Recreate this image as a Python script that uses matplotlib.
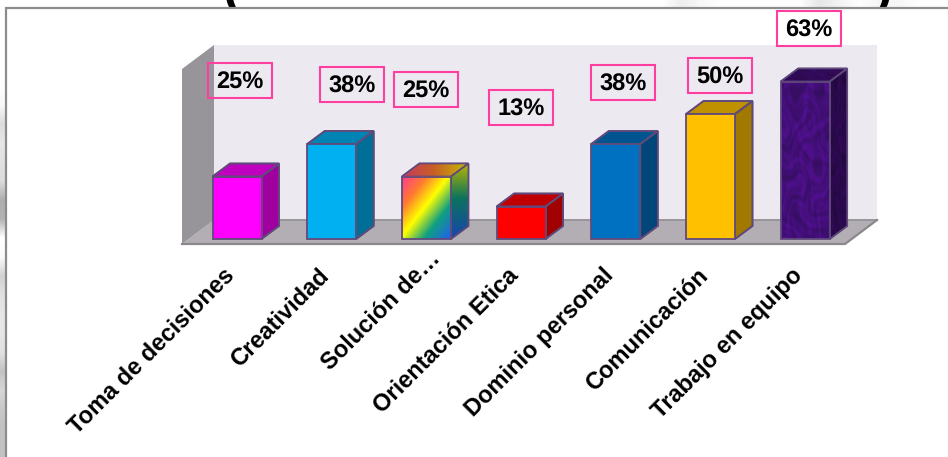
import numpy as np
import matplotlib
matplotlib.use("Agg")
import matplotlib.pyplot as plt
from matplotlib.colors import LinearSegmentedColormap, to_rgb
from matplotlib.patches import Polygon, Rectangle
from matplotlib.transforms import Affine2D

plt.rcParams["text.hinting"] = "no_hinting"

categories = ["Toma de decisiones", "Creatividad", "Solución de…", "Orientación Etica",
              "Dominio personal", "Comunicación", "Trabajo en equipo"]
values = [25, 38, 25, 13, 38, 50, 63]
front_colors = ["#FF00FF", "#00B0F0", "#FFC000", "#FF0000", "#0070C0", "#FFC000", "#4A1480"]
top_colors = ["#BF00BF", "#0084B4", "#BF9000", "#C00000", "#005490", "#BF9000", "#36105E"]
side_colors = ["#A000A0", "#006F97", "#A17900", "#A00000", "#004679", "#A17900", "#2E0C52"]

# Label box centres and tick label nudges, in pixels
label_centers = [(240, 80), (352.5, 84), (426, 89), (521, 107), (623, 82), (720, 75), (809, 28)]
tick_nudges = [(-6, 3), (-6, 3), (10, 20), (-6, 3), (-6, 3), (-6, 3), (-6, 3)]

W, H = 948, 457
EDGE = "#604A7B"
BOX = "#FF3FA0"
FONT = "Liberation Sans"
STEP, BAR_W, DEPTH_X, DEPTH_Y = 94.7, 49.0, 17.5, 13.0
PX_PER_PCT = 2.5
X0, BASE = 237.0, 239.0

fig = plt.figure(figsize=(W / 100, H / 100), dpi=100, facecolor="white")

# Pixel-space layer: page remnants, frame, walls and floor
bg = fig.add_axes([0, 0, 1, 1], zorder=0)
bg.set_xlim(0, W)
bg.set_ylim(H, 0)
bg.axis("off")

strip_left = np.array([1, 1, 1, 1, .99, .97, .86, .90, .88, .86, .68, .70, 1, .98, .82, .88,
                       .90, .90, .88, .76, .84, .78, .76, .76])[:, None]
bg.imshow(strip_left, extent=(0, 5, H, 0), cmap="gray", vmin=0, vmax=1, aspect="auto",
          interpolation="bilinear", zorder=1)
strip_top = np.array([1] * 34 + [.93, .97, .99, .99, .99, .99, .99, .90, .95, .99, .96, .96, .99, .99])[None, :]
bg.imshow(strip_top, extent=(0, W, 7, 0), cmap="gray", vmin=0, vmax=1, aspect="auto",
          interpolation="bilinear", zorder=1)
bg.set_xlim(0, W)
bg.set_ylim(H, 0)

bg.text(222.5, 3, "(", family=FONT, weight="bold", fontsize=36, color="black", va="baseline", ha="left", zorder=2)
bg.text(893, 3, ")", family=FONT, weight="bold", fontsize=36, color="black", va="baseline", ha="right", zorder=2)
bg.add_patch(Rectangle((6.5, 8), W, H, fc="white", ec="#8C8C8C", lw=1.6, zorder=3))

bg.add_patch(Polygon([(214, 45), (877, 45), (877, 220), (214, 220)], fc="#ECE9F1", ec="none", zorder=4))
bg.add_patch(Polygon([(182, 244), (214, 220), (877, 220), (845, 244)], fc="#B2AEB3", ec="none", zorder=5))
bg.plot([214, 877], [220, 220], color="#989599", lw=1.4, zorder=6)
bg.plot([182, 845, 877], [244, 244, 220], color="#8A888A", lw=1.6, zorder=6)
bg.add_patch(Polygon([(182, 69), (214, 45), (214, 220), (182, 244)], fc="#979599", ec="none", zorder=6))

# Data layer: the plot rectangle runs from the wall top down to the bar baseline
left, right, top = 182.0, 877.0, 45.0
ax = fig.add_axes([left / W, (H - BASE) / H, (right - left) / W, (BASE - top) / H], zorder=1)
ax.patch.set_alpha(0)
xlim = ((left - X0) / STEP, (right - X0) / STEP)
ylim = (0, (BASE - top) / PX_PER_PCT)
positions = np.arange(len(categories))
width = BAR_W / STEP
dx, dy = DEPTH_X / STEP, DEPTH_Y / PX_PER_PCT

rainbow = LinearSegmentedColormap.from_list(
    "rainbow_fill",
    [(0, "#FF3C90"), (.25, "#FF7A30"), (.48, "#FFFF00"), (.72, "#10A080"), (1, "#2060F0")])


def painted(poly, image, zorder=2.5):
    """Fill a patch with an RGB image clipped to its outline."""
    xy = np.asarray(poly.get_xy())
    ext = (xy[:, 0].min(), xy[:, 0].max(), xy[:, 1].min(), xy[:, 1].max())
    im = ax.imshow(image, extent=ext, origin="upper", aspect="auto",
                   interpolation="bilinear", zorder=zorder)
    im.set_clip_path(poly)


def rainbow_image(kind):
    u, v = np.meshgrid(np.linspace(0, 1, 80), np.linspace(0, 1, 80))
    if kind == "front":
        return rainbow((u + v) / 2)[..., :3]
    if kind == "side":
        return rainbow(.48 + .52 * v)[..., :3] * .72
    return rainbow(.06 + .40 * u)[..., :3] * .78


def woven_image(shade, n=160):
    # Mottled fabric look: waves whose coordinates are warped by slower waves
    u, v = np.meshgrid(np.linspace(0, 1, n // 3), np.linspace(0, 3, n))
    a = u * 9 + 1.6 * np.sin(5.3 * v + 2.1 * u) + 1.1 * np.sin(11.7 * u - 3.1 * v)
    b = v * 9 + 1.8 * np.sin(9.1 * u + 1.7 * v + 1) + 0.9 * np.sin(4.7 * v - 13.3 * u)
    w = (np.sin(a) * np.cos(b) + .6 * np.sin(2.3 * a + 1.4 * b) + .5 * np.cos(1.9 * b - 2.7 * a + .8)) / 2.1
    base = np.array(to_rgb("#440F7A"))
    tint = np.array([.025, -.006, .04])
    return np.clip((base[None, None, :] + w[..., None] * tint) * (1 + .16 * w[..., None]) * shade, 0, 1)


for i, (p, v) in enumerate(zip(positions, values)):
    x0, x1 = p - width / 2, p + width / 2
    top_face = Polygon([(x0, v), (x0 + dx, v + dy), (x1 + dx, v + dy), (x1, v)], closed=True,
                       fc=top_colors[i], ec=EDGE, lw=1.2, zorder=2.8, clip_on=False)
    side_face = Polygon([(x1, 0), (x1 + dx, dy), (x1 + dx, v + dy), (x1, v)], closed=True,
                        fc=side_colors[i], ec=EDGE, lw=1.2, zorder=2.8, clip_on=False)
    ax.add_patch(top_face)
    ax.add_patch(side_face)
    if i == 2:
        painted(side_face, rainbow_image("side"), 2.9)
        painted(top_face, rainbow_image("top"), 2.9)
    elif i == 6:
        painted(side_face, woven_image(.62), 2.9)
        painted(top_face, woven_image(.72), 2.9)
    for face in (top_face, side_face):
        ax.add_patch(Polygon(face.get_xy(), closed=True, fc="none", ec=EDGE, lw=1.2, zorder=3, clip_on=False))

fronts = ax.bar(positions, values, width=width, color=front_colors, edgecolor=EDGE, linewidth=1.3,
                zorder=3.2, clip_on=False)
for i, painter in ((2, lambda: rainbow_image("front")), (6, lambda: woven_image(1.0))):
    r = fronts[i]
    im = ax.imshow(painter(), extent=(r.get_x(), r.get_x() + r.get_width(), 0, r.get_height()),
                   origin="upper", aspect="auto", interpolation="bilinear", zorder=3.1)
    r.set_facecolor("none")

ax.set_xlim(*xlim)
ax.set_ylim(*ylim)
for s in ax.spines.values():
    s.set_visible(False)
ax.set_yticks([])
ax.set_xticks(positions, categories)
ax.tick_params(axis="x", length=0, pad=26)
for lab, (nx, ny) in zip(ax.get_xticklabels(), tick_nudges):
    lab.set(rotation=45, ha="right", va="center", rotation_mode="anchor",
            family=FONT, weight="bold", fontsize=17, color="black")
    lab.set_transform(lab.get_transform() + Affine2D().translate(nx, ny))

# Percentage callouts
for v, (cx, cy) in zip(values, label_centers):
    ax.add_patch(Rectangle((cx - 32, cy - 17.5), 64, 35, fc="none", ec=BOX, lw=1.5,
                           transform=bg.transData, zorder=5, clip_on=False))
    ax.text(cx, cy, f"{v}%", transform=bg.transData, ha="center", va="center_baseline",
            family=FONT, weight="bold", fontsize=17, color="black", zorder=6, clip_on=False)

fig.savefig("out.png", dpi=100)
